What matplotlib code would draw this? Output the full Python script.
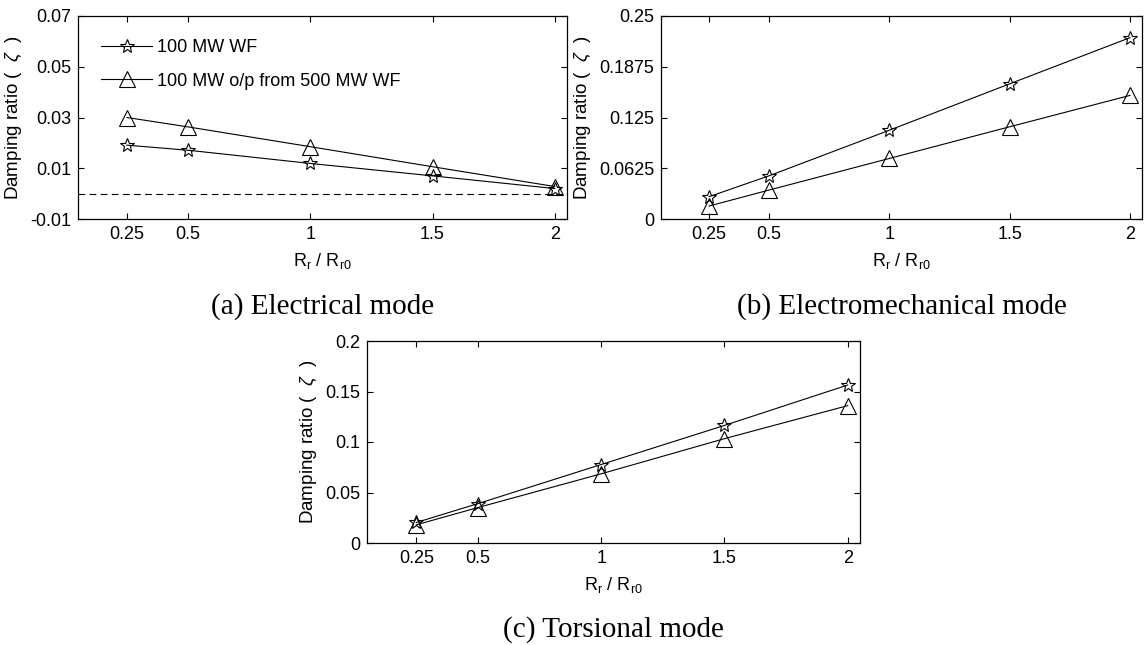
import numpy as np
import matplotlib
matplotlib.use("Agg")
import matplotlib.pyplot as plt

plt.rcParams['font.family'] = ['Liberation Sans', 'DejaVu Sans']
plt.rcParams['mathtext.fontset'] = 'custom'
plt.rcParams['mathtext.rm'] = 'Liberation Sans'
plt.rcParams['mathtext.it'] = 'Liberation Sans:italic'

# data
ratio = [0.25, 0.5, 1, 1.5, 2]

elec_wf100 = [0.0191, 0.0171, 0.0119, 0.0070, 0.0020]
elec_wf500 = [0.0300, 0.0263, 0.0185, 0.0106, 0.0028]

emech_wf100 = [0.0275, 0.0533, 0.1094, 0.1665, 0.2233]
emech_wf500 = [0.0160, 0.0357, 0.0746, 0.1136, 0.1522]

tors_wf100 = [0.0203, 0.0390, 0.0777, 0.1164, 0.1564]
tors_wf500 = [0.0180, 0.0351, 0.0685, 0.1033, 0.1360]

elec_yticks = [-0.01, 0.01, 0.03, 0.05, 0.07]
emech_yticks = [0, 0.0625, 0.125, 0.1875, 0.25]
tors_yticks = [0, 0.05, 0.1, 0.15, 0.2]

legend_labels = ["100 MW WF", "100 MW o/p from 500 MW WF"]
titles = ["(a) Electrical mode", "(b) Electromechanical mode", "(c) Torsional mode"]

W, H = 1144, 645
fig = plt.figure(figsize=(W / 100, H / 100), dpi=100)

def box(l, r, t, b):
    return [l / W, 1 - b / H, (r - l) / W, (b - t) / H]

ax_a = fig.add_axes(box(78, 567, 16, 219))
ax_b = fig.add_axes(box(661, 1142, 16, 219))
ax_c = fig.add_axes(box(367, 860, 341, 543))

def panel(ax, s1, s2, yticks, ylabels, title):
    ax.plot(ratio, s1, color='k', lw=0.8, marker='*', ms=10, mfc='none',
            mec='k', mew=0.8, label=legend_labels[0])
    ax.plot(ratio, s2, color='k', lw=0.8, marker='^', ms=11, mfc='none',
            mec='k', mew=0.8, label=legend_labels[1])
    ax.set_xlim(0.05, 2.05)
    ax.set_ylim(yticks[0], yticks[-1])
    ax.set_xticks(ratio)
    ax.set_xticklabels(["0.25", "0.5", "1", "1.5", "2"])
    ax.set_yticks(yticks)
    ax.set_yticklabels(ylabels)
    ax.tick_params(direction='in', top=True, right=True, labelsize=13,
                   length=4, width=0.8, pad=5)
    for sp in ax.spines.values():
        sp.set_linewidth(0.9)
    ax.set_xlabel(r"R$_\mathregular{r}$ / R$_\mathregular{r0}$", fontsize=13, labelpad=6)
    ax.set_ylabel(r"Damping ratio (  $\zeta$  )", fontsize=13.5, labelpad=4)
    ax.text(0.5, -0.43, title, transform=ax.transAxes, ha='center', va='center',
            fontsize=21, family='Liberation Serif')

panel(ax_a, elec_wf100, elec_wf500, elec_yticks,
      ["-0.01", "0.01", "0.03", "0.05", "0.07"], titles[0])
ax_a.axhline(0, color='k', lw=0.8, ls=(0, (6, 4)))
ax_a.legend(loc='upper left', frameon=False, fontsize=13, handlelength=2.8,
            borderaxespad=0.9, labelspacing=0.9, handletextpad=0.3)

panel(ax_b, emech_wf100, emech_wf500, emech_yticks,
      ["0", "0.0625", "0.125", "0.1875", "0.25"], titles[1])

panel(ax_c, tors_wf100, tors_wf500, tors_yticks,
      ["0", "0.05", "0.1", "0.15", "0.2"], titles[2])

plt.savefig("out.png", dpi=100)
